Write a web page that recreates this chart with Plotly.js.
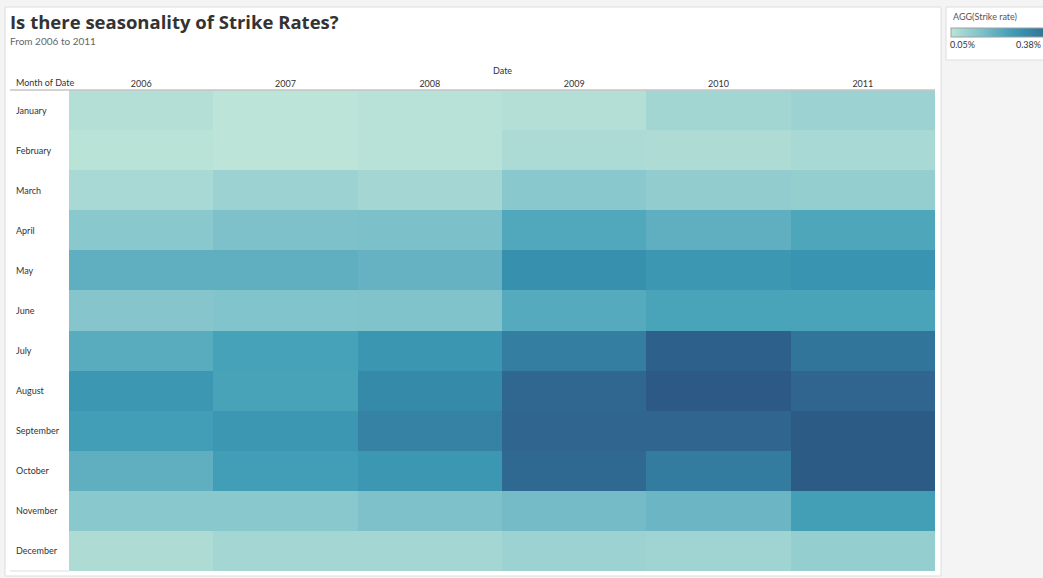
<!DOCTYPE html>
<html>
<head>
<meta charset="utf-8">
<script src="https://cdn.plot.ly/plotly-3.0.1.min.js"></script>
<style>html,body{margin:0;padding:0;background:#f4f4f4;}#chart{width:1043px;height:578px;}</style>
</head>
<body>
<div id="chart"></div>
<script>
// ---- data ----
const years = ['2006', '2007', '2008', '2009', '2010', '2011'];
const months = ['January', 'February', 'March', 'April', 'May', 'June', 'July', 'August', 'September', 'October', 'November', 'December'];
// strike rate (%) per month (rows) and year (columns)
const jan = [0.060, 0.050, 0.055, 0.060, 0.083, 0.092];
const feb = [0.053, 0.050, 0.055, 0.071, 0.067, 0.076];
const mar = [0.076, 0.092, 0.081, 0.119, 0.107, 0.102];
const apr = [0.119, 0.137, 0.140, 0.199, 0.180, 0.203];
const may = [0.180, 0.180, 0.172, 0.255, 0.238, 0.246];
const jun = [0.126, 0.130, 0.133, 0.194, 0.210, 0.210];
const jul = [0.189, 0.215, 0.241, 0.293, 0.363, 0.314];
const aug = [0.238, 0.212, 0.267, 0.345, 0.380, 0.349];
const sep = [0.224, 0.238, 0.284, 0.349, 0.349, 0.375];
const oct = [0.180, 0.224, 0.238, 0.342, 0.298, 0.375];
const nov = [0.119, 0.119, 0.137, 0.151, 0.165, 0.222];
const dec = [0.067, 0.081, 0.081, 0.092, 0.086, 0.102];
const legendMin = 0.05;
const legendMax = 0.38;
const legendLabels = ['0.05%', '0.38%'];
const legendTitle = 'AGG(Strike rate)';
const titleText = 'Is there seasonality of Strike Rates?';
const subtitleText = 'From 2006 to 2011';
const columnHeader = 'Date';
const rowHeader = 'Month of Date';

// ---- styling ----
const palette = ['#bce4d8','#aedcd5','#a1d5d2','#95cecf','#89c8cc','#7ec1ca','#72bac6','#66b2c2','#59acbe','#4ba5ba','#419eb6','#3b96b2','#358ead','#3586a7','#347ea1','#32779b','#316f96','#2f6790','#2d608a','#2c5985'];
const colorscale = palette.map((c, i) => [i / (palette.length - 1), c]);

const W = 1043, Hh = 578;
const L = 69, R = 935, T = 90, B = 571;
const PW = R - L, PH = B - T;
const X = px => (px - L) / PW;
const Y = py => (B - py) / PH;
const FONT = 'Lato, "Open Sans", sans-serif';

const z = [jan, feb, mar, apr, may, jun, jul, aug, sep, oct, nov, dec];

const trace = {
  type: 'heatmap',
  x: years,
  y: months,
  z: z,
  zmin: legendMin,
  zmax: legendMax,
  colorscale: colorscale,
  xgap: 0, ygap: 0,
  hovertemplate: '%{y} %{x}: %{z:.3f}%<extra></extra>',
  colorbar: {
    orientation: 'h',
    x: X(951), xanchor: 'left', xref: 'paper',
    y: Y(28), yanchor: 'top', yref: 'paper',
    len: 115, lenmode: 'pixels',
    thickness: 9, thicknessmode: 'pixels',
    xpad: 0, ypad: 0,
    outlinewidth: 1, outlinecolor: '#a0a0a0',
    showticklabels: false, ticks: '',
    bgcolor: 'rgba(0,0,0,0)', borderwidth: 0
  }
};

const annotations = [];
months.forEach(m => annotations.push({
  xref: 'paper', yref: 'y', x: X(14), y: m, xanchor: 'left', yanchor: 'middle',
  text: m, showarrow: false, font: {family: FONT, size: 9, color: '#333'}
}));
annotations.push({xref: 'paper', yref: 'paper', x: X(14), y: Y(83), xanchor: 'left', yanchor: 'middle',
  text: rowHeader, showarrow: false, font: {family: FONT, size: 9, color: '#333'}});
annotations.push({xref: 'paper', yref: 'paper', x: X(502), y: Y(70), xanchor: 'center', yanchor: 'middle',
  text: columnHeader, showarrow: false, font: {family: FONT, size: 9, color: '#333'}});
annotations.push({xref: 'paper', yref: 'paper', x: X(8), y: Y(41), xanchor: 'left', yanchor: 'middle',
  text: subtitleText, showarrow: false, font: {family: FONT, size: 10, color: '#666'}});
annotations.push({xref: 'paper', yref: 'paper', x: X(951), y: Y(16), xanchor: 'left', yanchor: 'middle',
  text: legendTitle, showarrow: false, font: {family: FONT, size: 9, color: '#555'}});
annotations.push({xref: 'paper', yref: 'paper', x: X(948), y: Y(44), xanchor: 'left', yanchor: 'middle',
  text: legendLabels[0], showarrow: false, font: {family: FONT, size: 9, color: '#333'}});
annotations.push({xref: 'paper', yref: 'paper', x: X(1043), y: Y(44), xanchor: 'right', yanchor: 'middle',
  text: legendLabels[1], showarrow: false, font: {family: FONT, size: 9, color: '#333'}});

const shapes = [
  {type: 'rect', xref: 'paper', yref: 'paper', layer: 'below',
   x0: X(5), x1: X(941), y0: Y(576), y1: Y(7),
   fillcolor: '#ffffff', line: {color: '#dddddd', width: 1}},
  {type: 'rect', xref: 'paper', yref: 'paper', layer: 'below',
   x0: X(946), x1: X(1060), y0: Y(60), y1: Y(7),
   fillcolor: '#ffffff', line: {color: '#dddddd', width: 1}},
  {type: 'line', xref: 'paper', yref: 'paper', layer: 'above',
   x0: X(10), x1: X(935), y0: Y(90), y1: Y(90),
   line: {color: '#c4c4c4', width: 1.5}},
  {type: 'line', xref: 'paper', yref: 'paper', layer: 'above',
   x0: X(10), x1: X(69), y0: Y(571), y1: Y(571),
   line: {color: '#dddddd', width: 1}}
];

const layout = {
  width: W, height: Hh,
  margin: {l: L, r: W - R, t: T, b: Hh - B, pad: 0, autoexpand: false},
  paper_bgcolor: '#f4f4f4',
  plot_bgcolor: '#ffffff',
  title: {
    text: '<b>' + titleText + '</b>',
    xref: 'container', yref: 'container',
    x: 10 / W, y: 1 - 23 / Hh, xanchor: 'left', yanchor: 'middle',
    font: {family: '"Open Sans", Lato, sans-serif', size: 18.5, color: '#333'}
  },
  xaxis: {
    side: 'top', type: 'category', showgrid: false, zeroline: false, showline: false,
    ticks: '', tickfont: {family: FONT, size: 9, color: '#333'}, fixedrange: true
  },
  yaxis: {
    type: 'category', autorange: 'reversed', showgrid: false, zeroline: false, showline: false,
    showticklabels: false, ticks: '', fixedrange: true
  },
  annotations: annotations,
  shapes: shapes,
  font: {family: FONT}
};

Plotly.newPlot('chart', [trace], layout, {displayModeBar: false, staticPlot: true});
</script>
</body>
</html>
